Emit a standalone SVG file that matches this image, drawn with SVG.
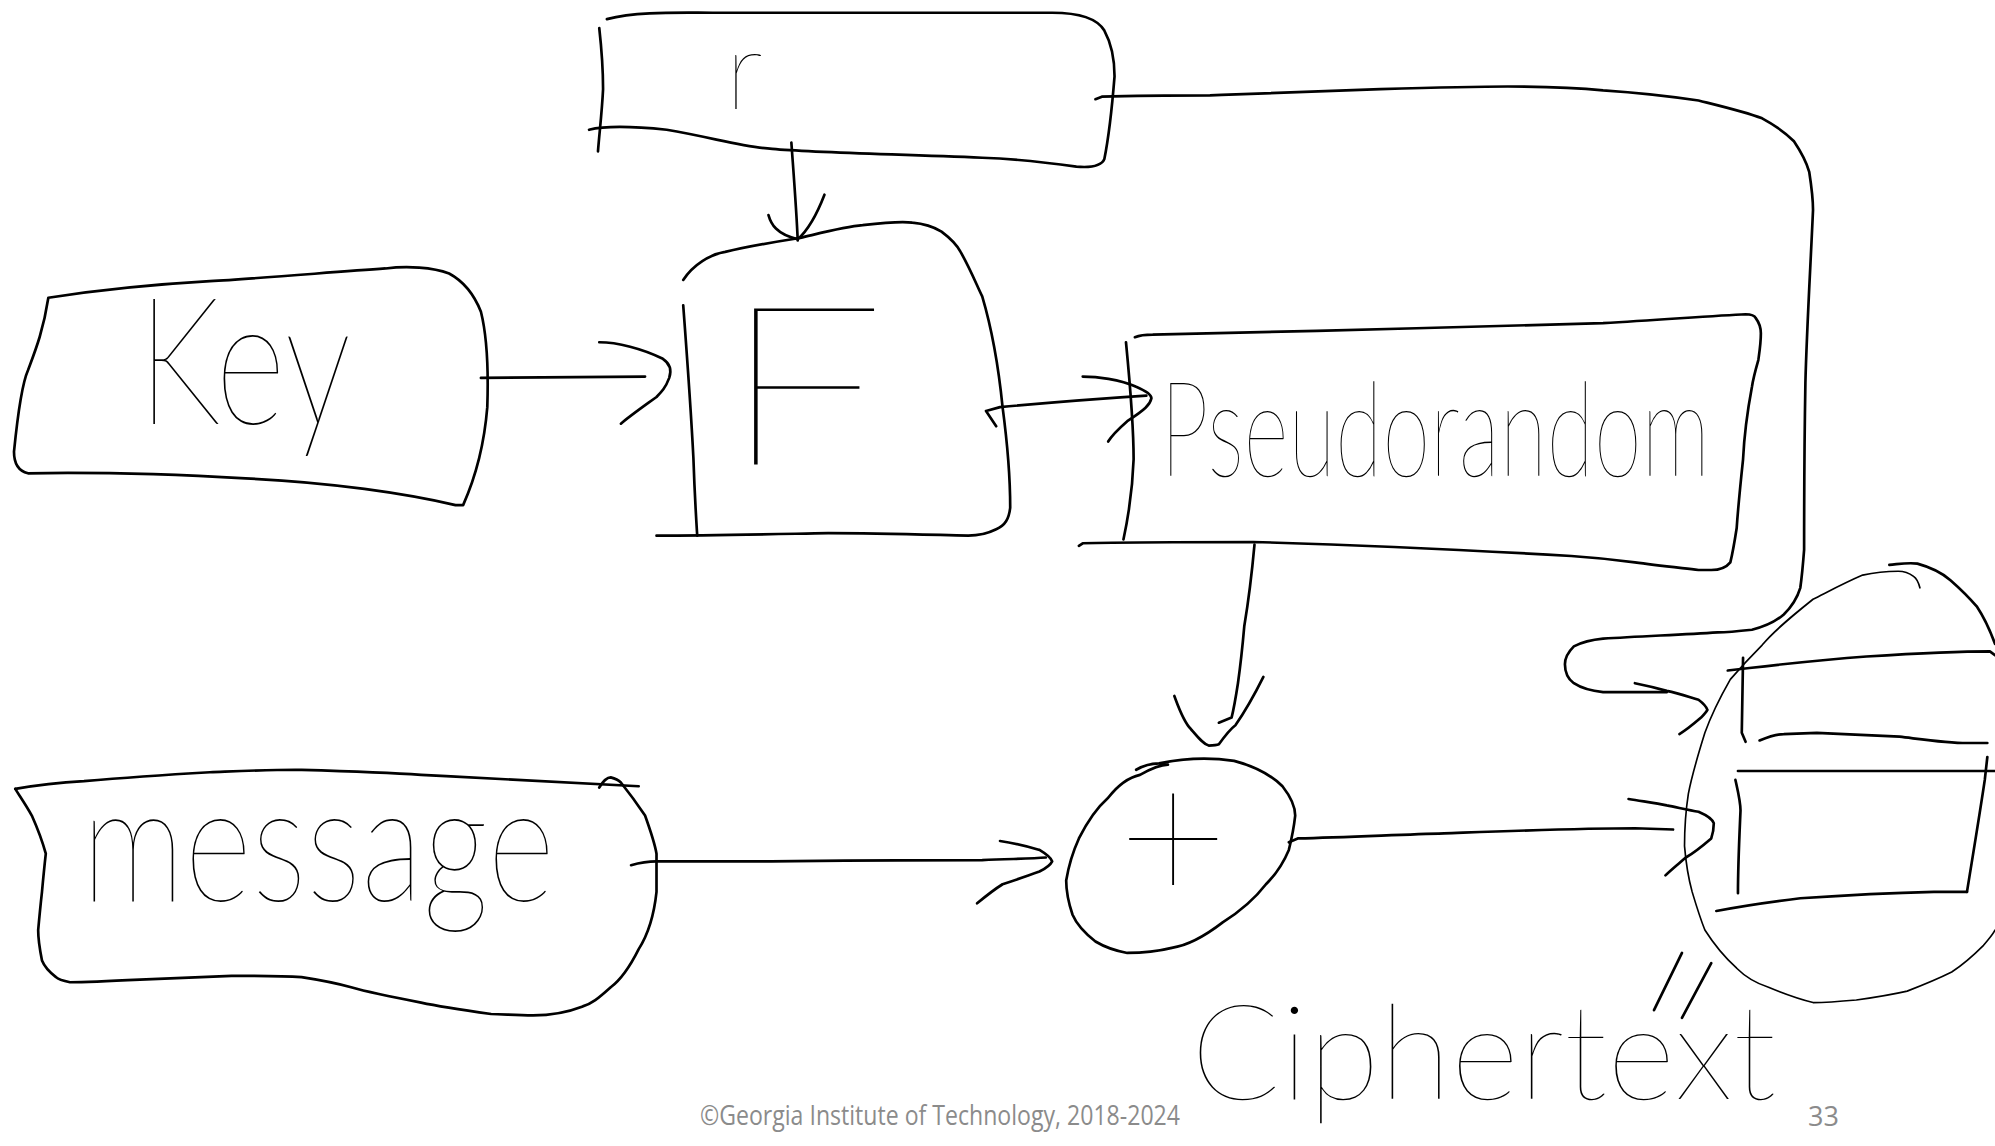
<svg xmlns="http://www.w3.org/2000/svg" width="1995" height="1146" viewBox="0 0 1995 1146">
<defs>
<style>
.ln{fill:none;stroke:#000;stroke-width:2.1;stroke-linecap:round;stroke-linejoin:round}
.thin{fill:none;stroke:#000;stroke-width:1.3;stroke-linecap:round;stroke-linejoin:round}
.hw{font-family:Lato,"Open Sans","Liberation Sans",sans-serif;font-weight:100;fill:#000}
.ft{font-family:"Open Sans","Liberation Sans",sans-serif;fill:#8b8b8b;font-size:27px}
</style>
</defs>
<rect width="1995" height="1146" fill="#fff"/>
<g transform="scale(1.2723)">
<g id="node-r">
<path class="ln" d="M477,15 C500,9 530,10 560,10 L827,10 C848,10 862,14 868,24 C874,35 876,48 876,60 C874,85 871,110 868,125 C866,130 858,132 846,131 C825,128 800,125 772,124 C700,121 640,120 607,117 C585,116 560,108 524,102 C495,99 475,99 463,102"/>
<path class="ln" d="M471,22 C473,40 474,58 474,70 C473,90 471,105 470,119"/>
<text class="hw" x="570" y="86" font-size="86">r</text>
</g>
<g id="node-key">
<path class="ln" d="M38,234 C90,226 130,223 165,221 C200,219 260,214 303,211 C320,209 340,210 353,215 C366,222 374,235 378,245 C383,265 384,290 383,320 C381,345 376,370 364,397 L358,397 C320,388 260,379 193,376 C140,373 80,371 22,372 C14,370 11,363 11,355 C14,325 18,300 22,291 C28,275 34,260 38,234 Z"/>
<text class="hw" x="108" y="333" font-size="140" textLength="168" lengthAdjust="spacingAndGlyphs">Key</text>
</g>
<g id="node-f">
<path class="ln" d="M537,240 C540,280 543,320 545,360 C546,390 547,405 548,421"/>
<path class="ln" d="M537,220 C545,208 558,200 570,198 C590,193 610,190 629,187 C650,182 665,178 678,177 C695,175 710,174 717,175 C728,176 735,179 740,182 C748,188 752,192 755,198 C763,212 768,225 772,233 C780,260 785,290 788,320 C792,350 794,375 794,399 C793,408 790,413 783,416 C775,420 768,421 761,421 C720,420 690,419 651,419 C600,420 560,421 516,421"/>
<text class="hw" x="566" y="365" font-size="175" textLength="130" lengthAdjust="spacingAndGlyphs">F</text>
</g>
<g id="node-pseudorandom">
<path class="ln" d="M885,269 C888,300 891,340 891,361 C890,390 886,410 883,424"/>
<path class="ln" d="M892,265 C897,263 901,263 906,263 L1035,260 C1110,258 1200,256 1260,254 C1310,251 1350,248 1372,247 C1376,247 1379,248 1380,250 C1383,254 1384,258 1384,262 C1384,270 1383,276 1382,283 C1380,290 1378,297 1377,304 C1374,320 1371,340 1370,361 C1368,380 1366,400 1365,415 C1363,428 1361,438 1360,442 C1356,447 1350,448 1345,448 L1335,448 C1318,446 1300,444 1285,442 C1270,440 1250,438 1235,437 C1150,432 1060,428 985,426 C940,426 890,426 851,427 L848,429"/>
<text class="hw" x="912" y="374" font-size="104" textLength="432" lengthAdjust="spacingAndGlyphs">Pseudorandom</text>
</g>
<g id="node-message">
<path class="ln" d="M12,620 C30,617 50,615 66,614 C100,611 130,609 165,607 C190,606 210,605 232,605 C265,606 300,607 331,609 C390,612 450,615 502,618"/>
<path class="ln" d="M471,619 C474,614 477,611 480,611 C484,612 486,613 488,615 C496,625 503,635 507,641 C512,655 515,665 516,671 L516,701 C514,720 509,735 502,746 C495,760 488,770 480,776 C470,785 465,789 458,791 C445,796 430,798 419,798 C405,798 395,797 386,797 C365,794 345,791 331,788 C310,784 290,780 276,776 C262,772 250,770 237,768 C220,767 200,767 182,767 C160,768 135,769 110,770 C90,771 70,772 55,772 C50,771 46,770 44,768 C40,765 35,760 33,755 C31,745 30,737 30,731 C31,720 32,710 33,701 C34,690 35,680 36,671 C33,660 29,650 25,641 C20,632 15,625 12,620"/>
<text class="hw" x="64" y="708" font-size="130" textLength="372" lengthAdjust="spacingAndGlyphs">message</text>
</g>
<g id="node-xor">
<path class="ln" d="M893,605 C900,601 905,600 911,600 C930,596 950,595 970,598 C985,602 998,608 1008,618 C1015,627 1018,635 1018,641 C1017,650 1015,660 1013,668 C1008,680 1002,688 995,695 C985,708 972,718 961,725 C948,735 935,743 921,745 C905,749 895,749 886,749 C875,747 866,743 861,740 C852,733 846,726 843,719 C840,710 838,700 838,692 C840,680 843,670 848,659 C855,645 862,635 871,627 C878,618 887,611 896,609 C905,604 912,601 918,601"/>
<text class="hw" x="922" y="710" font-size="150" text-anchor="middle">+</text>
</g>
<g id="node-ciphertext">
<path class="thin" d="M1509,462 C1508,458 1507,455 1504,453 C1500,450 1496,449 1492,449 C1483,449 1473,450 1464,452 C1450,458 1437,465 1425,471 C1410,483 1395,495 1385,507 C1375,517 1366,527 1360,534 C1352,548 1345,562 1340,576 C1335,592 1330,608 1327,624 C1325,637 1324,650 1324,665 C1325,677 1327,690 1330,701 C1333,711 1336,721 1340,731 C1347,742 1355,752 1365,761 C1372,768 1381,773 1390,776 C1402,781 1413,785 1425,788 C1437,788 1448,787 1459,786 C1473,784 1486,782 1499,779 C1512,774 1524,769 1534,764 C1543,758 1551,751 1559,743 C1563,738 1566,735 1568,731"/>
<path class="ln" d="M1485,444 C1495,443 1500,442 1507,443 C1518,446 1526,450 1533,456 C1541,463 1548,470 1554,477 C1560,486 1564,495 1568,506"/>
<path class="ln" d="M1358,527 L1375,525 C1410,521 1440,518 1467,516 C1500,514 1535,512 1564,512 L1568,515"/>
<path class="ln" d="M1370,517 L1369,576 L1372,583"/>
<path class="ln" d="M1383,582 C1390,579 1395,577 1402,577 L1428,576 C1450,577 1470,578 1493,579 C1510,581 1530,584 1546,584 L1562,584"/>
<path class="ln" d="M1366,606 L1568,606"/>
<path class="ln" d="M1562,595 L1560,613 C1556,640 1551,670 1546,701"/>
<path class="ln" d="M1546,701 L1520,701 C1480,702 1445,704 1415,706 C1390,709 1370,712 1349,716"/>
<path class="ln" d="M1364,613 C1366,622 1368,630 1368,637 C1367,660 1366,680 1366,702"/>
<path class="ln" d="M1322,749 L1300,794"/>
<path class="ln" d="M1345,757 L1322,800"/>
<text class="hw" x="936" y="864" font-size="104" textLength="460" lengthAdjust="spacingAndGlyphs">Ciphertext</text>
</g>
<g id="connectors">
<path class="ln" d="M622,112 C624,140 626,165 627,189"/>
<path class="ln" d="M604,169 C606,176 610,184 627,188 C636,180 643,166 648,153"/>
<path class="ln" d="M378,297 L507,296"/>
<path class="ln" d="M471,269 C485,269 505,274 521,282 C527,286 528,291 526,297 C523,305 520,308 516,312 C505,320 495,327 488,333"/>
<path class="ln" d="M783,335 L775,323 L786,320 C830,316 870,313 901,311"/>
<path class="ln" d="M851,296 C862,296 880,298 893,304 C900,307 905,310 905,313 C904,318 900,322 886,331 C878,338 874,342 871,347"/>
<path class="ln" d="M986,428 C984,450 980,480 978,492 C976,515 974,530 973,537 C971,550 969,560 968,564 L958,568"/>
<path class="ln" d="M923,547 C926,555 930,567 936,573 C942,580 946,585 950,586 C954,586 956,586 958,585 C963,578 967,573 971,570 C978,560 985,548 993,532"/>
<path class="ln" d="M496,680 C503,678 510,677 516,677 L606,677 C680,676 740,676 772,676 C795,675 810,675 822,674"/>
<path class="ln" d="M786,661 C800,663 810,666 817,668 C822,671 826,674 827,677 C825,681 821,683 817,685 C806,689 797,692 788,695 C780,700 774,705 768,710"/>
<path class="ln" d="M1013,662 L1020,659 C1060,658 1100,656 1135,655 C1190,653 1240,651 1285,651 L1315,652"/>
<path class="ln" d="M1280,628 C1292,630 1302,631 1310,633 C1320,635 1328,637 1335,638 C1342,641 1346,644 1347,647 C1347,652 1346,656 1345,659 C1338,665 1332,670 1325,674 C1318,680 1313,684 1309,688"/>
<path class="ln" d="M861,78 L866,76 C900,75 930,75 951,75 C1000,73 1050,71 1085,70 C1120,69 1155,68 1185,68 C1215,68 1240,69 1260,71 C1290,73 1315,76 1335,79 C1355,84 1372,88 1385,93 C1398,100 1405,106 1410,111 C1416,120 1420,128 1422,135 C1424,148 1425,158 1425,165 C1423,210 1420,260 1419,301 C1418,360 1418,420 1418,432 C1417,445 1416,455 1415,462 C1412,472 1407,478 1402,483 C1395,489 1385,493 1377,495 C1368,496 1358,497 1350,497 C1320,499 1290,500 1260,502 C1250,503 1243,505 1237,508 C1232,513 1230,517 1230,522 C1230,530 1233,534 1237,537 C1243,541 1250,543 1260,544 C1280,544 1295,544 1310,544"/>
<path class="ln" d="M1285,537 C1295,539 1303,541 1310,543 C1320,545 1328,548 1335,550 C1339,553 1341,555 1342,558 C1341,560 1339,562 1337,564 C1330,570 1325,574 1320,577"/>
</g>
</g>
<g id="footer">
<text class="ft" x="700" y="1125" textLength="480" lengthAdjust="spacingAndGlyphs">©Georgia Institute of Technology, 2018-2024</text>
<text class="ft" x="1808" y="1126">33</text>
</g>
</svg>
